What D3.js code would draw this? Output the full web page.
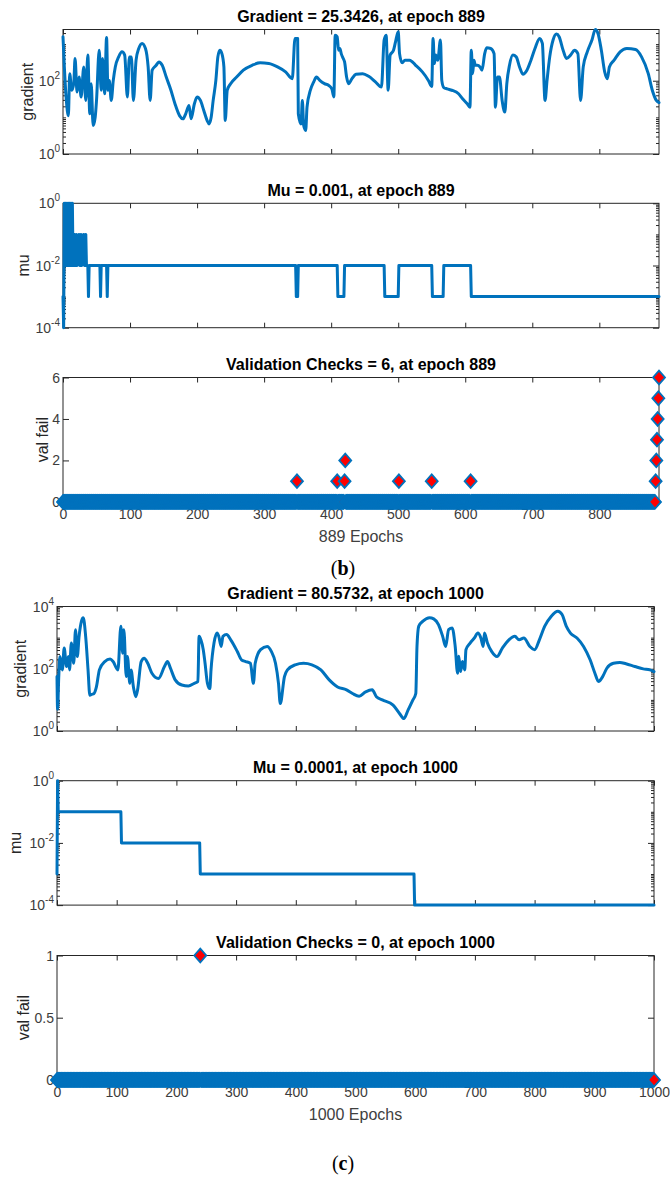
<!DOCTYPE html>
<html>
<head>
<meta charset="utf-8">
<script src="https://cdn.jsdelivr.net/npm/d3@7"></script>
<style>
  body { margin: 0; background: #fff; }
  svg { display: block; font-family: "Liberation Sans", Arial, Helvetica, sans-serif; }
</style>
</head>
<body>
<svg id="fig" width="670" height="1178"></svg>
<script>
// ---------- training record (b): 889 epochs ----------
const epochsB = 889;
const gradientB = [
  [0,1585],[2,238],[5,29],[8,11],[10,156],[13,55],[16,83],[18,405],[21,49],[24,126],[27,36],[31,238],[34,29],
  [37,500],[40,12.5],[42,83],[45,6],[48,10],[50,29],[54,680],[57,55],[59,405],[62,44],[65,1510],[67,55],[69,102],
  [72,29],[75,102],[78,238],[83,447],[88,614],[92,500],[96,36],[99,447],[102,447],[105,29],[109,363],[113,760],
  [118,1040],[123,760],[127,238],[130,29],[133,194],[139,264],[143,326],[148,264],[154,126],[161,55],[167,23.5],
  [174,11],[179,9.1],[183,12.5],[188,21],[191,9.1],[196,23.5],[200,36],[205,29],[210,15.4],[215,8.2],[218,6.6],
  [221,10],[224,29],[228,102],[231,447],[234,680],[237,550],[240,238],[242,8.2],[245,55],[250,83],[259,126],
  [269,194],[282,264],[294,307],[307,294],[320,238],[332,174],[342,114],[346,1420],[350,1420],[351,12.5],[355,6.6],
  [357,29],[359,6],[362,4.4],[364,19],[369,55],[374,93],[378,126],[383,102],[390,83],[396,75],[401,60],[404,36],
  [406,1750],[409,1585],[411,680],[413,760],[415,550],[418,405],[420,326],[423,126],[426,83],[431,114],[437,151],
  [447,156],[456,132],[466,93],[475,67],[479,1290],[482,1750],[485,55],[488,500],[493,680],[496,1150],[500,2180],
  [502,550],[506,307],[510,363],[517,363],[526,264],[536,174],[545,102],[550,70],[552,1420],[554,294],[556,500],
  [559,363],[563,1290],[565,102],[568,65],[573,60],[580,55],[590,44],[596,32],[603,23.5],[607,19],[609,680],
  [611,156],[613,363],[615,264],[618,264],[622,238],[625,194],[629,550],[632,790],[638,760],[643,550],[645,19],
  [648,126],[651,126],[655,29],[659,13.9],[662,83],[666,264],[671,500],[676,447],[681,238],[686,151],[692,194],
  [698,363],[704,760],[711,1420],[715,1040],[719,29],[722,102],[726,447],[731,1290],[736,1870],[740,1585],
  [746,680],[751,405],[757,500],[763,680],[768,550],[772,29],[776,238],[782,614],[789,1290],[794,2500],[798,1950],
  [803,680],[808,174],[812,114],[815,238],[822,363],[831,614],[841,760],[854,710],[863,447],[873,156],[879,55],
  [885,29],[889,25.3426]
];
const muB = [
  [0,1e-3],[1,1e-4],[2,1],[3,1e-2],[4,1],[5,1e-2],[6,1],[7,1e-2],[8,1],[9,1e-2],[10,1],[11,1e-2],[12,1],[13,1e-2],
  [14,1],[15,1e-2],[17,1e-1],[18,1e-2],[20,1e-1],[21,1e-2],[24,1e-1],[25,1e-2],[27,1e-1],[28,1e-2],[31,1e-1],
  [32,1e-2],[34,1e-1],[35,1e-2],[37,1e-2],[38,1e-3],[39,1e-2],[55,1e-2],[56,1e-3],[57,1e-2],[65,1e-2],[66,1e-3],
  [67,1e-2],[347,1e-2],[348,1e-3],[350,1e-3],[351,1e-2],[409,1e-2],[410,1e-3],[419,1e-3],[420,1e-2],[479,1e-2],
  [480,1e-3],[500,1e-3],[501,1e-2],[550,1e-2],[551,1e-3],[567,1e-3],[568,1e-2],[608,1e-2],[609,1e-3],[889,1e-3]
];
const valFailEpochsB = [349, 409, 420, 421, 501, 550, 608, 884, 885, 886, 887, 888, 889];
const valFailCountsB = [1, 1, 1, 2, 1, 1, 1, 1, 2, 3, 4, 5, 6];

// ---------- training record (c): 1000 epochs ----------
const epochsC = 1000;
const gradientC = [
  [0,56],[1,5],[3,60],[5,247],[9,92],[12,460],[16,118],[19,247],[21,92],[24,670],[28,150],[31,1800],[34,247],
  [37,1100],[41,3400],[44,4350],[48,1100],[52,92],[55,14],[58,15],[62,16],[66,26],[71,92],[80,170],[89,204],
  [94,170],[102,92],[107,2340],[110,316],[112,1800],[116,56],[118,247],[122,34],[124,92],[128,26],[132,12.6],
  [135,21],[141,170],[146,219],[152,150],[159,72],[170,49],[180,118],[185,170],[190,104],[198,44],[209,30],
  [220,28],[230,34],[236,39],[238,1100],[241,850],[245,410],[248,150],[252,34],[256,23],[258,92],[263,670],
  [268,1400],[271,1100],[275,520],[278,1100],[284,1250],[291,850],[302,360],[309,194],[316,170],[324,150],
  [329,34],[332,150],[341,410],[352,520],[359,360],[366,150],[371,34],[374,7.6],[381,56],[386,92],[399,134],
  [413,150],[427,134],[442,92],[456,44],[470,26],[485,21],[495,16],[506,13],[517,18],[528,21],[535,12.6],
  [545,10],[563,6.8],[574,3.6],[581,2.5],[588,4.7],[596,9.8],[601,16],[603,520],[606,2340],[613,3370],[624,4350],
  [631,4000],[639,2630],[646,1100],[651,520],[656,1800],[662,2050],[667,520],[671,72],[673,250],[676,81],
  [679,170],[683,92],[685,410],[692,670],[699,970],[705,1400],[710,970],[714,520],[716,1400],[721,670],[728,360],
  [737,247],[746,460],[757,850],[767,1100],[774,850],[782,970],[792,520],[800,410],[808,850],[817,2340],
  [828,4900],[839,7080],[846,5500],[853,2340],[860,1400],[871,970],[882,520],[893,194],[901,72],[907,39],
  [914,56],[921,104],[932,150],[943,160],[953,144],[968,118],[982,99],[993,92],[1000,80.5732]
];
const muC = [
  [0,1e-3],[1,1],[2,0.1],[107,0.1],[108,0.01],[239,0.01],[240,1e-3],[598,1e-3],[599,1e-4],[1000,1e-4]
];
const valFailEpochsC = [240];
const valFailCountsC = [1];

// ---------- tick values ----------
const epochTicksB = [0, 100, 200, 300, 400, 500, 600, 700, 800];
const epochTicksC = [0, 100, 200, 300, 400, 500, 600, 700, 800, 900, 1000];
const gradTicksB = [1, 100];
const gradTicksC = [1, 100, 10000];
const muTicks = [1e-4, 1e-2, 1];
const valTicksB = [0, 2, 4, 6];
const valTicksC = [0, 0.5, 1];

// ---------- titles ----------
const titlesB = ["Gradient = 25.3426, at epoch 889", "Mu = 0.001, at epoch 889", "Validation Checks = 6, at epoch 889"];
const titlesC = ["Gradient = 80.5732, at epoch 1000", "Mu = 0.0001, at epoch 1000", "Validation Checks = 0, at epoch 1000"];

// ---------- drawing ----------
const svg = d3.select("#fig");
const BLUE = "#0072BD";
const AXIS = "#262626";
const TICKTXT = "#3c3c3c";

// full val-fail series: every epoch, zero where no failure was counted
function valSeries(last, eps, counts) {
  const m = new Map(eps.map((e, i) => [e, counts[i]]));
  return d3.range(0, last + 1).map(e => [e, m.has(e) ? m.get(e) : 0]);
}

function minorLogTicks(domain) {
  const out = [];
  const lo = Math.floor(Math.log10(domain[0])), hi = Math.ceil(Math.log10(domain[1]));
  for (let k = lo; k <= hi; k++) for (let j = 1; j <= 9; j++) {
    const v = j * Math.pow(10, k);
    if (v >= domain[0] * 0.999 && v <= domain[1] * 1.001) out.push(v);
  }
  return out;
}

function drawPanel(p) {
  const g = svg.append("g");
  const x = d3.scaleLinear().domain([0, p.last]).range([p.left, p.right]);
  const y = (p.log ? d3.scaleLog() : d3.scaleLinear()).domain(p.yDomain).range([p.bottom, p.top]);

  // frame
  g.append("rect").attr("x", p.left).attr("y", p.top)
    .attr("width", p.right - p.left).attr("height", p.bottom - p.top)
    .attr("fill", "none").attr("stroke", AXIS).attr("stroke-width", 1);

  // epoch ticks (inward, bottom + top)
  const xb = d3.axisBottom(x).tickValues(p.xTicks).tickSizeInner(-5).tickSizeOuter(0).tickPadding(7)
    .tickFormat(p.xLabels ? d3.format("d") : "");
  const gxb = g.append("g").attr("transform", `translate(0,${p.bottom})`).call(xb);
  const gxt = g.append("g").attr("transform", `translate(0,${p.top})`)
    .call(d3.axisTop(x).tickValues(p.xTicks).tickSizeInner(-5).tickSizeOuter(0).tickFormat(""));
  [gxb, gxt].forEach(a => { a.select(".domain").remove(); a.selectAll("line").attr("stroke", AXIS); });
  gxb.selectAll("text").attr("fill", TICKTXT).attr("font-size", 14)
    .attr("font-family", "Liberation Sans, Arial, sans-serif");

  // value ticks (inward, left + right)
  const minor = p.log ? minorLogTicks(p.yDomain).filter(v => !p.yTicks.some(t => Math.abs(t - v) / t < 1e-6)) : [];
  const yl = g.append("g").attr("transform", `translate(${p.left},0)`)
    .call(d3.axisLeft(y).tickValues(p.yTicks).tickSizeInner(-6).tickSizeOuter(0).tickFormat(""));
  const yr = g.append("g").attr("transform", `translate(${p.right},0)`)
    .call(d3.axisRight(y).tickValues(p.yTicks).tickSizeInner(-6).tickSizeOuter(0).tickFormat(""));
  [yl, yr].forEach(a => { a.select(".domain").remove(); a.selectAll("line").attr("stroke", AXIS); });
  if (minor.length) {
    const ml = g.append("g").attr("transform", `translate(${p.left},0)`)
      .call(d3.axisLeft(y).tickValues(minor).tickSizeInner(-3).tickSizeOuter(0).tickFormat(""));
    const mr = g.append("g").attr("transform", `translate(${p.right},0)`)
      .call(d3.axisRight(y).tickValues(minor).tickSizeInner(-3).tickSizeOuter(0).tickFormat(""));
    [ml, mr].forEach(a => { a.select(".domain").remove(); a.selectAll("line").attr("stroke", AXIS); });
  }

  // value tick labels
  p.yTicks.forEach(v => {
    const t = g.append("text").attr("x", p.left - 3).attr("y", y(v) + 5)
      .attr("text-anchor", "end").attr("fill", TICKTXT).attr("font-size", 14);
    if (p.log) {
      t.append("tspan").text("10");
      t.append("tspan").text(Math.round(Math.log10(v))).attr("font-size", 10).attr("dy", -7);
    } else {
      t.text(String(v));
    }
  });

  // axis name
  g.append("text")
    .attr("transform", `translate(${p.yLabelX},${(p.top + p.bottom) / 2}) rotate(-90)`)
    .attr("text-anchor", "middle").attr("dy", "0.35em")
    .attr("fill", AXIS).attr("font-size", 16).text(p.yLabel);

  // title
  g.append("text").attr("x", (p.left + p.right) / 2).attr("y", p.top - 13).attr("dy", "0.35em")
    .attr("text-anchor", "middle").attr("font-weight", "bold").attr("font-size", 16)
    .attr("fill", "#000").text(p.title);

  if (p.xName) {
    g.append("text").attr("x", (p.left + p.right) / 2).attr("y", p.bottom + 34).attr("dy", "0.35em")
      .attr("text-anchor", "middle").attr("fill", "#404040").attr("font-size", 16).text(p.xName);
  }

  // data
  if (p.line) {
    g.append("path").datum(p.line)
      .attr("d", d3.line().x(d => x(d[0])).y(d => y(d[1])).curve(p.curve || d3.curveLinear))
      .attr("fill", "none").attr("stroke", BLUE).attr("stroke-width", 3)
      .attr("stroke-linejoin", "round").attr("stroke-linecap", "round");
  }
  if (p.markers) {
    const w = 6, h = 6.8;
    g.append("g").selectAll("path").data(p.markers).join("path")
      .attr("d", `M0,${-h}L${w},0L0,${h}L${-w},0Z`)
      .attr("transform", d => `translate(${x(d[0])},${y(d[1])})`)
      .attr("fill", "#ff0000").attr("stroke", BLUE).attr("stroke-width", 1.8);
  }
}

function drawGroup(o) {
  const rows = [
    { top: o.tops[0], bottom: o.tops[0] + 124.5, log: true, yDomain: o.gradDomain, yTicks: o.gradTicks,
      yLabel: "gradient", yLabelX: o.labelX[0], title: o.titles[0], line: o.gradient, curve: d3.curveMonotoneX },
    { top: o.tops[1], bottom: o.tops[1] + 124.4, log: true, yDomain: [1e-4, 1], yTicks: muTicks,
      yLabel: "mu", yLabelX: o.labelX[1], title: o.titles[1], line: o.mu },
    { top: o.tops[2], bottom: o.tops[2] + 124.4, log: false, yDomain: o.valDomain, yTicks: o.valTicks,
      yLabel: "val fail", yLabelX: o.labelX[2], title: o.titles[2], markers: o.val,
      xLabels: true, xName: `${o.last} Epochs` }
  ];
  rows.forEach(r => drawPanel(Object.assign({ left: o.left, right: o.right, last: o.last, xTicks: o.xTicks }, r)));
  const cap = svg.append("text").attr("x", 343).attr("y", o.capY).attr("dy", "0.35em")
    .attr("text-anchor", "middle").attr("font-family", "Liberation Serif, 'Times New Roman', serif")
    .attr("font-size", 20).attr("fill", "#000");
  cap.append("tspan").text("(");
  cap.append("tspan").attr("font-weight", "bold").text(o.caption);
  cap.append("tspan").text(")");
}

drawGroup({
  left: 63, right: 659, last: epochsB, xTicks: epochTicksB,
  tops: [29.5, 203.3, 377.5], labelX: [27, 23, 42], titles: titlesB,
  gradient: gradientB, gradDomain: [1, d3.max(gradientB, d => d[1])], gradTicks: gradTicksB,
  mu: muB, val: valSeries(epochsB, valFailEpochsB, valFailCountsB),
  valDomain: [0, 6], valTicks: valTicksB, caption: "b", capY: 568
});

drawGroup({
  left: 57, right: 654, last: epochsC, xTicks: epochTicksC,
  tops: [606.5, 780.7, 955.5], labelX: [20, 15, 23], titles: titlesC,
  gradient: gradientC, gradDomain: [1, 1e4], gradTicks: gradTicksC,
  mu: muC, val: valSeries(epochsC, valFailEpochsC, valFailCountsC),
  valDomain: [0, 1], valTicks: valTicksC, caption: "c", capY: 1163
});
</script>
</body>
</html>
